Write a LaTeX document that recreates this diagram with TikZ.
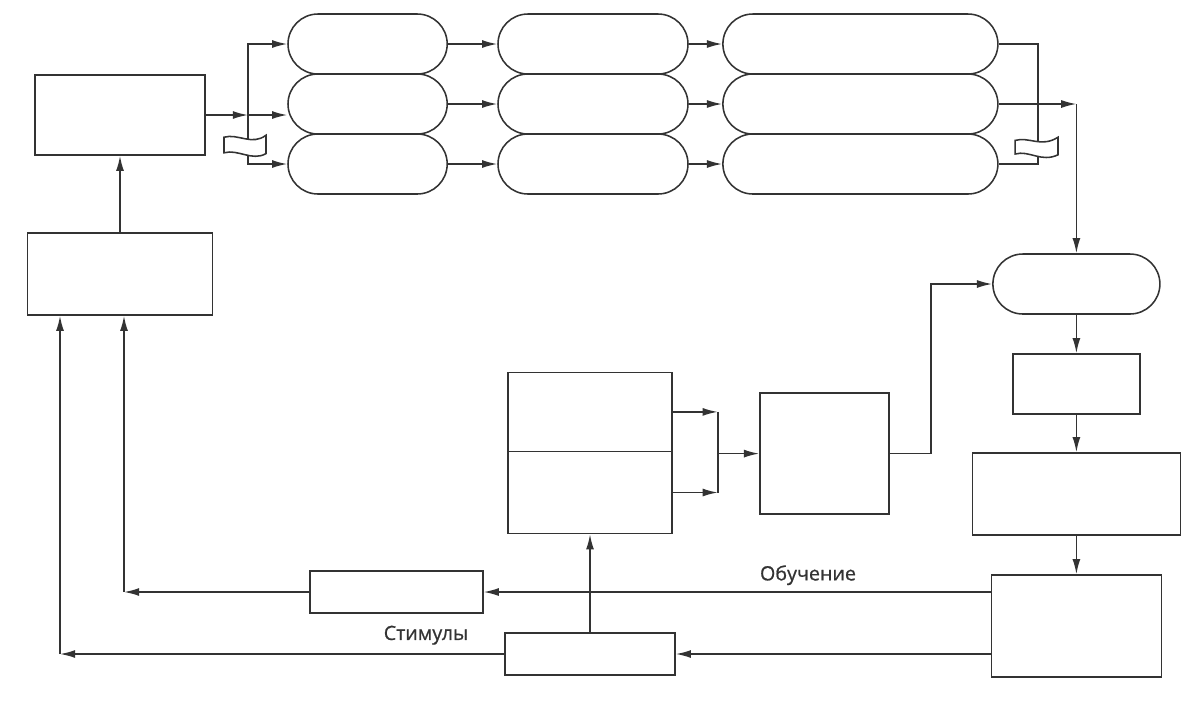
\documentclass[tikz,border=0pt]{standalone}
\usepackage{fontspec}
\newfontfamily\beschrfont[FakeBold=0.8]{Open Sans}
\usepackage{tikz}
\usetikzlibrary{arrows.meta}

\tikzset{
  kapsel/.style={draw, rounded corners=0.75cm, minimum height=1.5cm, inner sep=0pt},
  kasten/.style={draw, inner sep=0pt},
  beschr/.style={font=\beschrfont\fontsize{14}{16}\selectfont, inner sep=1pt},
}

\begin{document}
\begin{tikzpicture}[line width=1.1pt, color=black!80,
  >={Latex[length=0.38cm,width=0.2cm]}]
\useasboundingbox (0,0) rectangle (29.55,-17.825);
\def\ya{-1.1}  % obere Zeile
\def\yb{-2.6}  % mittlere Zeile
\def\yc{-4.1}  % untere Zeile

% =========================================================
% Eingang links oben
% =========================================================
\node[kasten, minimum width=4.25cm, minimum height=2cm] (ein) at (3.0,-2.875) {};
\node[kasten, minimum width=4.625cm, minimum height=2.05cm] (steuer) at (3.0,-6.85) {};
\draw[->] (steuer.north) -- (ein.south);

% =========================================================
% Drei Spalten mit Kapseln
% =========================================================
% --- Spalte 1 ---
\node[kapsel, minimum width=3.98cm] (k1a) at (9.19,\ya) {};
\node[kapsel, minimum width=3.98cm] (k1b) at (9.19,\yb) {};
\node[kapsel, minimum width=3.98cm] (k1c) at (9.19,\yc) {};
% --- Spalte 2 ---
\node[kapsel, minimum width=4.75cm] (k2a) at (14.825,\ya) {};
\node[kapsel, minimum width=4.75cm] (k2b) at (14.825,\yb) {};
\node[kapsel, minimum width=4.75cm] (k2c) at (14.825,\yc) {};
% --- Spalte 3 ---
\node[kapsel, minimum width=6.875cm] (k3a) at (21.51,\ya) {};
\node[kapsel, minimum width=6.875cm] (k3b) at (21.51,\yb) {};
\node[kapsel, minimum width=6.875cm] (k3c) at (21.51,\yc) {};

% Verteilung auf Spalte 1
\coordinate (bus) at (6.2,-2.875);
\draw[->] (ein.east) -- (bus);
\draw[->] (bus) -- (bus -| k1b.west);
\draw[->] (bus) |- (k1a.west);
\draw[->] (bus) |- (k1c.west);

% Spalte 1 -> 2 -> 3
\draw[->] (k1a.east) -- (k2a.west);
\draw[->] (k1b.east) -- (k2b.west);
\draw[->] (k1c.east) -- (k2c.west);
\draw[->] (k2a.east) -- (k3a.west);
\draw[->] (k2b.east) -- (k3b.west);
\draw[->] (k2c.east) -- (k3c.west);

% =========================================================
% Rechte Spalte
% =========================================================
\node[kapsel, minimum width=4.175cm] (term) at (26.91,-7.1) {};
\node[kasten, minimum width=3.175cm, minimum height=1.5cm] (r1) at (26.91,-9.6) {};
\node[kasten, minimum width=5.2cm, minimum height=2.05cm] (r2) at (26.91,-12.35) {};
\node[kasten, minimum width=4.25cm, minimum height=2.55cm] (r3) at (26.91,-15.65) {};

% Zusammenfuehrung Spalte 3
\draw (k3a.east) -- ++(0.98,0) |- (k3c.east);
\coordinate (knick) at (k3b.east -| term.north);
\draw[->] (k3b.east) -- (knick);
\draw[->] (knick) -- (term.north);

\draw[->] (term.south) -- (r1.north);
\draw[->] (r1.south) -- (r2.north);
\draw[->] (r2.south) -- (r3.north);

% Unterbrechungen (Wellen)
\begin{scope}[shift={(6.2,-3.6)}]
\filldraw[fill=white] (-0.6,0.17) .. controls (-0.25,0.27) and (0.1,-0.05) .. (0.45,0.22)
  -- (0.45,-0.24) .. controls (0.1,-0.44) and (-0.25,-0.12) .. (-0.6,-0.22) -- cycle;
\end{scope}
\begin{scope}[shift={(25.93,-3.65)}]
\filldraw[fill=white] (-0.55,0.14) .. controls (-0.2,0.24) and (0.1,-0.05) .. (0.52,0.22)
  -- (0.52,-0.22) .. controls (0.1,-0.42) and (-0.2,-0.1) .. (-0.55,-0.2) -- cycle;
\end{scope}

% =========================================================
% Mitte: geteilter Block und Auswertung
% =========================================================
\node[kasten, minimum width=4.1cm, minimum height=1.975cm] (m1) at (14.75,-10.2975) {};
\node[kasten, minimum width=4.1cm, minimum height=2.05cm] (m2) at (14.75,-12.3125) {};
\node[kasten, minimum width=3.225cm, minimum height=3.025cm] (aus) at (20.61,-11.34) {};

\draw[->] (m1.east) -- ++(1.125,0) coordinate (mo);
\draw[->] (m2.east) -- ++(1.125,0) coordinate (mu);
\draw (mo) -- (mu);
\draw[->] (mo |- aus.west) -- (aus.west);
\draw[->] (aus.east) -- ++(1.03,0) |- (term.west);

% =========================================================
% Rueckfuehrung unten
% =========================================================
\node[kasten, minimum width=4.325cm, minimum height=1.05cm] (p1) at (9.91,-14.8) {};
\node[kasten, minimum width=4.25cm, minimum height=1.05cm] (p2) at (14.75,-16.35) {};

\draw[->] (r3.west |- p1.east) -- (p1.east);
\draw[->] (r3.west |- p2.east) -- (p2.east);
\draw[->] (p2.north) -- (m2.south);

\coordinate (ecke1) at (3.1,-14.8);
\coordinate (ecke2) at (1.5,-16.35);
\draw[->] (p1.west) -- (ecke1);
\draw[->] (ecke1) -- (ecke1 |- steuer.south);
\draw[->] (p2.west) -- (ecke2);
\draw[->] (ecke2) -- (ecke2 |- steuer.south);

\node[beschr] (obu) at (20.2,-14.38) {Обучение};
\node[beschr] (stim) at (10.65,-15.88) {Стимулы};

\end{tikzpicture}
\end{document}
